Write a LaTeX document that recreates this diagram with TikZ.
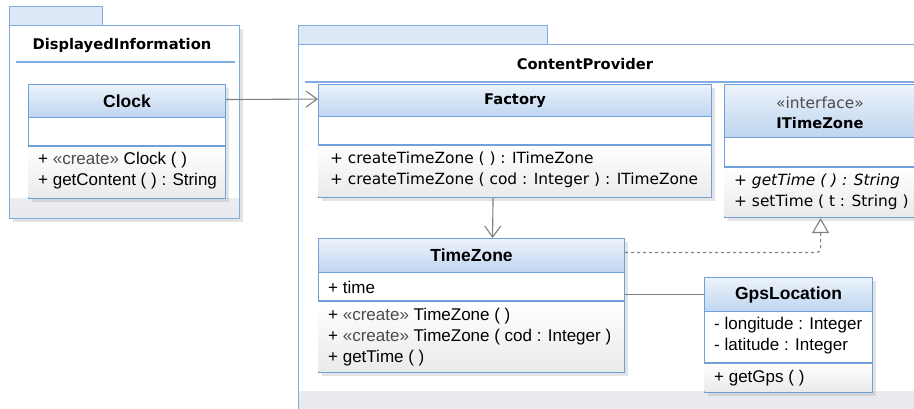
\documentclass[tikz,border=0pt]{standalone}
\usepackage{fontspec}
\usetikzlibrary{arrows.meta,shadows}
\newfontfamily\arial{Liberation Sans}
\newfontfamily\tahoma{DejaVu Sans}
\definecolor{pkgline}{RGB}{128,172,226}
\definecolor{clsline}{RGB}{112,160,216}
\definecolor{tabfill}{RGB}{220,232,247}
\definecolor{hdtop}{RGB}{236,243,251}
\definecolor{hdbot}{RGB}{190,213,240}
\definecolor{pkgbot}{RGB}{232,234,238}
\definecolor{opsbot}{RGB}{234,234,234}
\definecolor{connline}{RGB}{128,128,128}
\definecolor{stereo}{RGB}{75,75,75}
\newcommand{\memfont}{\arial\fontsize{17}{21}\selectfont}
\newcommand{\titlefont}{\arial\bfseries\fontsize{17.5}{21}\selectfont}
\newcommand{\tmemfont}{\tahoma\fontsize{15.4}{21}\selectfont}
\newcommand{\ttitlefont}{\tahoma\bfseries\fontsize{14.7}{21}\selectfont}
\newcommand{\stcreate}{{\color{stereo}«create»}}
\newcommand{\opsarea}[2]% top left, bottom right
{(#1) rectangle (#2)
}

\begin{document}
\begin{tikzpicture}[x=1pt,y=-1pt,
    shdw/.style={drop shadow={shadow xshift=3pt,shadow yshift=-3pt,opacity=0.22}},
    pkgtab/.style={draw=pkgline,fill=tabfill,line width=1.1pt,anchor=north west,inner sep=0pt},
    pkgbody/.style={draw=pkgline,fill=white,line width=1.1pt,anchor=north west,inner sep=0pt,shdw,
      path picture={\shade[top color=white,bottom color=pkgbot] ([yshift=20pt]path picture bounding box.south west) rectangle (path picture bounding box.south east);}},
    clsbox/.style={draw=clsline,fill=white,line width=1.1pt,anchor=north west,inner sep=0pt,shdw},
    clshead/.style={draw=clsline,top color=hdtop,bottom color=hdbot,line width=1.1pt,anchor=north west,inner sep=0pt},
    ops/.style={top color=white,bottom color=opsbot},
    sepline/.style={draw=clsline,line width=1.1pt},
    mem/.style={anchor=west,inner sep=0pt,font=\memfont},
    tmem/.style={anchor=west,inner sep=0pt,font=\tmemfont},
    conn/.style={draw=connline,line width=1.1pt}]
\clip (0,0) rectangle (914,409);
\fill[white] (0,0) rectangle (914,409);

% package DisplayedInformation
\node[pkgtab,minimum width=93,minimum height=19] (ditab) at (9,6) {};
\node[pkgbody,minimum width=230,minimum height=193] (dipkg) at (9,25) {};
\node[font=\ttitlefont] (dititle) at (122,46) {DisplayedInformation};
\draw[pkgline,line width=1.1pt] (16,62) -- (235,62);

% package ContentProvider
\node[pkgtab,minimum width=249,minimum height=19] (cptab) at (298,25) {};
\node[pkgbody,minimum width=640,minimum height=367] (cppkg) at (298,44) {};
\node[font=\ttitlefont] (cptitle) at (585,64) {ContentProvider};
\draw[pkgline,line width=1.1pt] (305,82) -- (914,82);

% Clock
\node[clsbox,minimum width=197,minimum height=114] (clock) at (28,84) {};
\shade[ops] \opsarea{28.6,146}{224.4,197.4};
\draw[sepline] (28,146) -- (225,146);
\node[clshead,minimum width=197,minimum height=33,font=\titlefont] (clockhd) at (28,84) {Clock};
\node[mem] (clockop1) at (38,160) {+ \stcreate{} Clock ( )};
\node[mem] (clockop2) at (38,181) {+ getContent ( ) : String};

% Factory
\node[clsbox,minimum width=393,minimum height=113] (factory) at (318,84) {};
\shade[ops] \opsarea{318.6,145}{710.4,196.4};
\draw[sepline] (318,145) -- (711,145);
\node[clshead,minimum width=393,minimum height=32,font=\ttitlefont] (factoryhd) at (318,84) {Factory};
\node[tmem] (factoryop1) at (330,159) {+ createTimeZone ( ) : ITimeZone};
\node[tmem] (factoryop2) at (330,180) {+ createTimeZone ( cod : Integer ) : ITimeZone};

% ITimeZone
\node[clsbox,minimum width=192,minimum height=133] (itz) at (724,84) {};
\shade[ops] \opsarea{724.6,167}{915.4,216.4};
\draw[sepline] (724,167) -- (916,167);
\node[clshead,minimum width=192,minimum height=53] (itzhd) at (724,84) {};
\node[font=\tmemfont,color=stereo] (itzst) at (820,103) {«interface»};
\node[font=\ttitlefont] (itztitle) at (820,123) {ITimeZone};
\node[tmem] (itzop1) at (734,181) {\itshape + getTime ( ) : String};
\node[tmem] (itzop2) at (734,202) {+ setTime ( t : String )};

% TimeZone
\node[clsbox,minimum width=306,minimum height=134] (tz) at (318,238) {};
\shade[ops] \opsarea{318.6,301}{623.4,371.4};
\draw[sepline] (318,301) -- (624,301);
\node[clshead,minimum width=306,minimum height=34,font=\titlefont] (tzhd) at (318,238) {TimeZone};
\node[mem] (tzat1) at (328,287) {+ time};
\node[mem] (tzop1) at (328,316) {+ \stcreate{} TimeZone ( )};
\node[mem] (tzop2) at (328,337) {+ \stcreate{} TimeZone ( cod : Integer )};
\node[mem] (tzop3) at (328,358) {+ getTime ( )};

% GpsLocation
\node[clsbox,minimum width=168,minimum height=115] (gps) at (704,277) {};
\shade[ops] \opsarea{704.6,363}{871.4,391.4};
\draw[sepline] (704,363) -- (872,363);
\node[clshead,minimum width=168,minimum height=34,font=\titlefont] (gpshd) at (704,277) {GpsLocation};
\node[mem] (gpsat1) at (714,325) {- longitude : Integer};
\node[mem] (gpsat2) at (714,346) {- latitude : Integer};
\node[mem] (gpsop1) at (714,378) {+ getGps ( )};

% connectors
\draw[conn,-{Straight Barb[length=11pt,width=16pt]}] ([yshift=1.5pt]clockhd.east) -- ([yshift=1.5pt]factoryhd.west);
\draw[conn,-{Straight Barb[length=11pt,width=16pt]}] ([xshift=-22pt]factory.south) -- ([xshift=21pt]tz.north);
\draw[conn,dashed,rounded corners=4pt,-{Triangle[open,fill=white,length=15pt,width=17pt]}] ([yshift=3pt]tzhd.east) -| (itz.south);
\draw[conn] (gpshd.west -| tz.east) -- (gpshd.west);
\end{tikzpicture}
\end{document}
